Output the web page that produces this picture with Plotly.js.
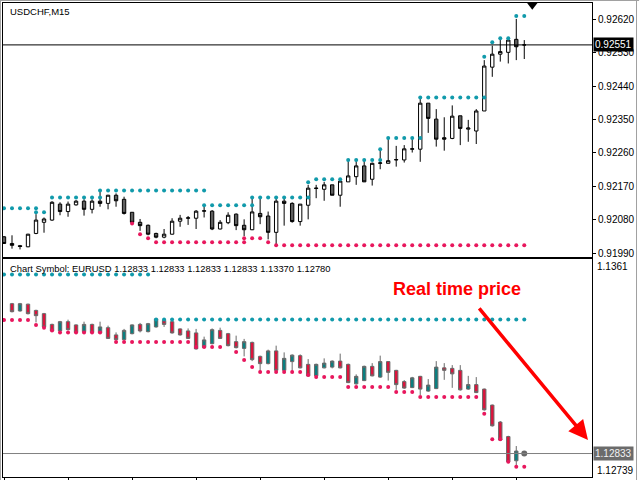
<!DOCTYPE html>
<html>
<head>
<meta charset="utf-8">
<script src="https://cdn.plot.ly/plotly-3.0.1.min.js"></script>
<style>html,body{margin:0;padding:0;background:#fff;}#chart{width:640px;height:480px;}</style>
</head>
<body>
<div id="chart"></div>
<script>
// ---------- USDCHF M15 (upper panel) ----------
const topOpen = [
0.92034,0.92016,0.92010,0.92007,0.92043,0.92073,0.92079,0.92122,0.92102,0.92120,
0.92130,0.92108,0.92130,0.92124,0.92146,0.92135,0.92100,0.92073,0.92065,0.92043,
0.92033,0.92041,0.92076,0.92084,0.92084,0.92103,0.92103,0.92055,0.92072,0.92095,
0.92065,0.92053,0.92097,0.92090,0.92046,0.92130,0.92124,0.92075,0.92119,0.92164,
0.92162,0.92174,0.92146,0.92182,0.92196,0.92225,0.92189,0.92232,0.92232,0.92241,
0.92241,0.92270,0.92270,0.92394,0.92351,0.92301,0.92299,0.92360,0.92324,0.92319,
0.92373,0.92491,0.92526,0.92531,0.92566,0.92551];
const topHigh = [
0.92036,0.92038,0.92012,0.92042,0.92095,0.92086,0.92130,0.92127,0.92129,0.92133,
0.92135,0.92135,0.92155,0.92147,0.92151,0.92142,0.92100,0.92082,0.92067,0.92045,
0.92055,0.92084,0.92093,0.92090,0.92106,0.92118,0.92106,0.92079,0.92100,0.92097,
0.92081,0.92139,0.92140,0.92102,0.92142,0.92139,0.92127,0.92122,0.92174,0.92174,
0.92182,0.92174,0.92187,0.92239,0.92239,0.92239,0.92234,0.92272,0.92302,0.92279,
0.92281,0.92302,0.92405,0.92394,0.92378,0.92356,0.92388,0.92360,0.92349,0.92378,
0.92510,0.92549,0.92569,0.92564,0.92621,0.92564];
const topLow = [
0.92015,0.92002,0.92000,0.92006,0.92041,0.92045,0.92077,0.92092,0.92088,0.92118,
0.92091,0.92097,0.92115,0.92108,0.92115,0.92094,0.92066,0.92050,0.92038,0.92030,
0.92030,0.92040,0.92061,0.92066,0.92055,0.92086,0.92052,0.92054,0.92068,0.92052,
0.92036,0.92052,0.92068,0.92027,0.92014,0.92064,0.92072,0.92064,0.92081,0.92138,
0.92131,0.92146,0.92115,0.92182,0.92174,0.92182,0.92172,0.92216,0.92232,0.92223,
0.92234,0.92261,0.92236,0.92314,0.92277,0.92266,0.92297,0.92281,0.92290,0.92284,
0.92373,0.92465,0.92506,0.92501,0.92510,0.92513];
const topClose = [
0.92016,0.92011,0.92008,0.92041,0.92079,0.92082,0.92127,0.92102,0.92122,0.92130,
0.92108,0.92130,0.92124,0.92146,0.92131,0.92097,0.92073,0.92064,0.92041,0.92033,
0.92041,0.92076,0.92084,0.92085,0.92103,0.92104,0.92055,0.92073,0.92092,0.92064,
0.92053,0.92101,0.92088,0.92046,0.92130,0.92124,0.92075,0.92122,0.92165,0.92165,
0.92174,0.92146,0.92184,0.92198,0.92225,0.92182,0.92232,0.92233,0.92239,0.92242,
0.92271,0.92271,0.92394,0.92353,0.92297,0.92297,0.92359,0.92326,0.92327,0.92373,
0.92494,0.92526,0.92533,0.92564,0.92546,0.92551];
// resistance (teal) and support (red) dot levels, upper panel: bar index ranges
const topResStart = [0,4,6,12,25,31,38,39,43,47,48,52,60,61,62,64];
const topResEnd   = [4,5,12,25,31,38,38,42,47,47,52,60,60,61,63,65];
const topResLevel = [0.92111,0.92100,0.92140,0.92159,0.92119,0.92140,0.92181,0.92189,0.92241,0.92270,0.92300,0.92409,0.92519,0.92558,0.92569,0.92629];
const topSupStart = [16,17,18,19,30,33,34];
const topSupEnd   = [16,17,18,30,32,33,65];
const topSupLevel = [0.92070,0.92041,0.92030,0.92019,0.92030,0.92019,0.92011];
const topLast = 0.92551;
const topTickVals = [0.91990,0.92080,0.92170,0.92260,0.92350,0.92440,0.92530,0.92620];

// ---------- EURUSD (lower panel) ----------
const lowOpen = [
null,1.13433,1.13404,1.13431,1.13406,1.13393,1.13350,1.13324,1.13361,1.13348,
1.13321,1.13350,1.13316,1.13337,1.13308,1.13289,1.13313,1.13350,1.13321,1.13340,
1.13366,1.13361,1.13332,1.13324,1.13316,1.13258,1.13273,1.13326,1.13313,1.13281,
1.13254,1.13278,1.13222,1.13193,1.13244,1.13166,1.13201,1.13225,1.13190,1.13144,
1.13176,1.13179,1.13203,1.13190,1.13112,1.13125,1.13182,1.13139,1.13201,1.13166,
1.13121,1.13097,1.13142,1.13083,1.13093,1.13176,1.13174,1.13166,1.13091,1.13109,
1.13091,1.13027,1.12959,1.12901,1.12804,null];
const lowHigh = [
null,1.13436,1.13436,1.13433,1.13409,1.13396,1.13353,1.13364,1.13369,1.13350,
1.13361,1.13353,1.13361,1.13345,1.13318,1.13332,1.13350,1.13356,1.13356,1.13374,
1.13372,1.13366,1.13334,1.13334,1.13332,1.13301,1.13334,1.13337,1.13316,1.13305,
1.13292,1.13281,1.13225,1.13249,1.13265,1.13238,1.13230,1.13230,1.13211,1.13193,
1.13214,1.13206,1.13233,1.13193,1.13150,1.13185,1.13195,1.13225,1.13203,1.13168,
1.13127,1.13140,1.13144,1.13131,1.13203,1.13195,1.13187,1.13187,1.13144,1.13139,
1.13093,1.13029,1.12963,1.12904,1.12863,null];
const lowLow = [
null,1.13398,1.13401,1.13390,1.13358,1.13336,1.13321,1.13321,1.13326,1.13316,
1.13318,1.13316,1.13313,1.13292,1.13286,1.13286,1.13310,1.13318,1.13318,1.13337,
1.13340,1.13313,1.13305,1.13292,1.13249,1.13256,1.13270,1.13292,1.13262,1.13254,
1.13222,1.13203,1.13163,1.13190,1.13160,1.13163,1.13163,1.13174,1.13142,1.13134,
1.13174,1.13174,1.13174,1.13115,1.13109,1.13123,1.13142,1.13136,1.13125,1.13088,
1.13092,1.13095,1.13067,1.13080,1.13091,1.13128,1.13096,1.13085,1.13088,1.13075,
1.13005,1.12941,1.12885,1.12798,1.12786,null];
const lowClose = [
null,1.13401,1.13433,1.13393,1.13385,1.13340,1.13324,1.13361,1.13329,1.13318,
1.13350,1.13318,1.13340,1.13294,1.13289,1.13326,1.13348,1.13324,1.13353,1.13372,
1.13350,1.13316,1.13308,1.13294,1.13252,1.13288,1.13329,1.13294,1.13265,1.13257,
1.13281,1.13209,1.13193,1.13244,1.13166,1.13214,1.13227,1.13176,1.13144,1.13190,
1.13195,1.13203,1.13176,1.13117,1.13142,1.13182,1.13144,1.13201,1.13158,1.13109,
1.13095,1.13136,1.13091,1.13107,1.13179,1.13166,1.13152,1.13088,1.13109,1.13077,
1.13008,1.12944,1.12887,1.12800,1.12843,null];
const lowResStart = [0,19];
const lowResEnd   = [18,65];
const lowResLevel = [1.13550,1.13370];
const lowSupStart = [0,4,5,6,7,14,24,29,30,31,32,38,39,43,49,52,60,61,63,64];
const lowSupEnd   = [3,4,5,6,12,23,27,29,30,31,37,38,42,48,51,59,60,62,63,65];
const lowSupLevel = [1.13368,1.13348,1.13337,1.13326,1.13318,1.13280,1.13260,1.13240,1.13207,1.13179,1.13159,1.13147,1.13139,1.13099,1.13079,1.13059,1.12992,1.12890,1.12800,1.12780];
const lowLast = 1.12833;
const lowTop = 1.1361, lowBottom = 1.12739;
const infoText = 'Chart Symbol: EURUSD 1.12833 1.12833 1.12833 1.12833 1.13370 1.12780';
const xTickVals = [0,8,16,24,32,40,48,56,64];
const shiftIndex = 66;

// ---------- build ----------
const idx = topOpen.map((_, i) => i);
const lastIdx = idx[idx.length - 1];
function expand(s, e, l) {
  const xs = [], ys = [];
  for (let k = 0; k < s.length; k++) {
    for (let i = s[k]; i <= e[k]; i++) { xs.push(i); ys.push(l[k]); }
  }
  return {xs, ys};
}
const tR = expand(topResStart, topResEnd, topResLevel);
const tS = expand(topSupStart, topSupEnd, topSupLevel);
const lR = expand(lowResStart, lowResEnd, lowResLevel);
const lS = expand(lowSupStart, lowSupEnd, lowSupLevel);

const TEAL_DOT = '#119aab', RED_DOT = '#e8175d';
const FONT = 'Liberation Sans, Arial, sans-serif';

const traces = [
  {type:'candlestick', x: idx, open: topOpen, high: topHigh, low: topLow, close: topClose,
   xaxis:'x', yaxis:'y', whiskerwidth:0,
   increasing:{line:{color:'#000', width:1}, fillcolor:'#ffffff'},
   decreasing:{line:{color:'#000', width:1}, fillcolor:'#5f5f5f'}, hoverinfo:'skip'},
  {type:'scatter', mode:'markers', x: tR.xs, y: tR.ys, xaxis:'x', yaxis:'y',
   marker:{color:TEAL_DOT, size:4, symbol:'circle'}, hoverinfo:'skip'},
  {type:'scatter', mode:'markers', x: tS.xs, y: tS.ys, xaxis:'x', yaxis:'y',
   marker:{color:RED_DOT, size:4, symbol:'circle'}, hoverinfo:'skip'},
  {type:'scatter', mode:'markers', x:[shiftIndex], y:[0.92659], xaxis:'x', yaxis:'y', cliponaxis:false,
   marker:{color:'#000', size:10, symbol:'triangle-down'}, hoverinfo:'skip'},
  {type:'candlestick', x: idx, open: lowOpen, high: lowHigh, low: lowLow, close: lowClose,
   xaxis:'x2', yaxis:'y2', whiskerwidth:0,
   increasing:{line:{color:'#696969', width:1}, fillcolor:'#0b7f80'},
   decreasing:{line:{color:'#696969', width:1}, fillcolor:'#dc143c'}, hoverinfo:'skip'},
  {type:'scatter', mode:'markers', x: lR.xs, y: lR.ys, xaxis:'x2', yaxis:'y2',
   marker:{color:TEAL_DOT, size:4, symbol:'circle'}, hoverinfo:'skip'},
  {type:'scatter', mode:'markers', x: lS.xs, y: lS.ys, xaxis:'x2', yaxis:'y2',
   marker:{color:RED_DOT, size:4, symbol:'circle'}, hoverinfo:'skip'},
  {type:'scatter', mode:'markers', x:[lastIdx], y:[lowLast], xaxis:'x2', yaxis:'y2',
   marker:{color:'#696969', size:6, symbol:'circle'}, hoverinfo:'skip'}
];

const xRange = [-0.125, 73.46];
const axBase = {showline:true, mirror:true, linecolor:'#000', linewidth:1, showgrid:false, zeroline:false};
const layout = {
  width:640, height:480,
  margin:{l:3, r:48, t:3, b:3, pad:0},
  paper_bgcolor:'#fff', plot_bgcolor:'#fff',
  showlegend:false, boxgap:0.4,
  font:{family:FONT, size:10, color:'#000'},
  xaxis: Object.assign({}, axBase, {anchor:'y', range:xRange, showticklabels:false, ticks:'', rangeslider:{visible:false}}),
  yaxis: Object.assign({}, axBase, {anchor:'x', domain:[0.4641,1], range:[0.919795,0.926639], side:'right',
          tickvals: topTickVals, ticktext: topTickVals.map(v => v.toFixed(5)),
          ticks:'outside', ticklen:3, tickcolor:'#000', tickfont:{family:FONT, size:10, color:'#000'}}),
  xaxis2: Object.assign({}, axBase, {anchor:'y2', range:xRange, showticklabels:false, ticks:'outside', ticklen:4,
          tickcolor:'#000', tickvals: xTickVals, rangeslider:{visible:false}}),
  yaxis2: Object.assign({}, axBase, {anchor:'x2', domain:[0,0.4589], range:[lowBottom, lowTop], side:'right',
          showticklabels:false, ticks:''}),
  shapes:[
    {type:'line', xref:'paper', x0:0, x1:1, yref:'y', y0:topLast, y1:topLast, line:{color:'#000', width:1}},
    {type:'line', xref:'paper', x0:0, x1:1, yref:'y2', y0:lowLast, y1:lowLast, line:{color:'#808080', width:1}},
    {type:'line', xref:'paper', yref:'paper', x0:-0.0043, x1:-0.0043, y0:-0.01, y1:1.01, line:{color:'#a0a0a0', width:1}},
    {type:'line', xref:'paper', yref:'paper', x0:-0.01, x1:1.08, y0:1.0053, y1:1.0053, line:{color:'#a0a0a0', width:1}},
    {type:'line', xref:'paper', yref:'paper', x0:1.0756, x1:1.0756, y0:-0.01, y1:1.01, line:{color:'#a0a0a0', width:1}}
  ],
  annotations:[
    {xref:'paper', yref:'paper', x:0.0085, y:0.9816, xanchor:'left', yanchor:'middle', showarrow:false,
     text:'USDCHF,M15', font:{family:FONT, size:9.5, color:'#000'}},
    {xref:'paper', yref:'paper', x:0.0085, y:0.4403, xanchor:'left', yanchor:'middle', showarrow:false,
     text: infoText, font:{family:FONT, size:9.4, color:'#000'}},
    {xref:'paper', yref:'paper', x:0.6587, y:0.3966, xanchor:'left', yanchor:'middle', showarrow:false,
     text:'<b>Real time price</b>', font:{family:'Liberation Sans, Arial, sans-serif', size:18, color:'#ff0000'}},
    {xref:'paper', yref:'paper', x:0.9932, y:0.0781, showarrow:true, text:'', ax:-110, ay:-133,
     arrowhead:2, arrowsize:1.1, arrowwidth:3.5, arrowcolor:'#ff0000'},
    {xref:'paper', yref:'y', x:1, y:topLast, xanchor:'left', yanchor:'middle', xshift:1, showarrow:false,
     text: topLast.toFixed(5), bgcolor:'#000', borderpad:1, font:{family:FONT, size:10, color:'#fff'}},
    {xref:'paper', yref:'y2', x:1, y:lowLast, xanchor:'left', yanchor:'middle', xshift:1, showarrow:false,
     text: lowLast.toFixed(5), bgcolor:'#6b6b6b', borderpad:1, font:{family:FONT, size:10, color:'#f2f2f2'}},
    {xref:'paper', yref:'paper', x:1, y:0.4437, xanchor:'left', yanchor:'middle', xshift:3, showarrow:false,
     text: lowTop.toFixed(4), font:{family:FONT, size:10, color:'#000'}},
    {xref:'paper', yref:'paper', x:1, y:0.0127, xanchor:'left', yanchor:'middle', xshift:3, showarrow:false,
     text: lowBottom.toFixed(5), font:{family:FONT, size:10, color:'#000'}}
  ]
};
Plotly.newPlot('chart', traces, layout, {displayModeBar:false, staticPlot:true});
</script>
</body>
</html>
